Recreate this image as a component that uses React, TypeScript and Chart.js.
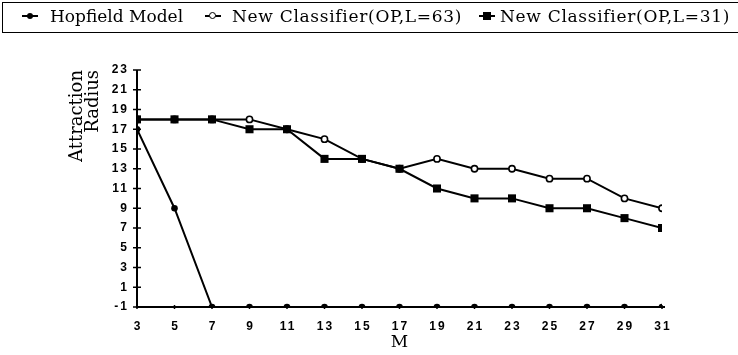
import React, { useEffect, useRef } from "react";
import { Chart, registerables } from "chart.js";

Chart.register(...registerables);

const mValues = [3, 5, 7, 9, 11, 13, 15, 17, 19, 21, 23, 25, 27, 29, 31];
const hopfield = [17, 9, -1, -1, -1, -1, -1, -1, -1, -1, -1, -1, -1, -1, -1];
const classifier63 = [18, 18, 18, 18, 17, 16, 14, 13, 14, 13, 13, 12, 12, 10, 9];
const classifier31 = [18, 18, 18, 17, 17, 14, 14, 13, 11, 10, 10, 9, 9, 8, 7];
const seriesNames = ["Hopfield Model", "New Classifier(OP,L=63)", "New Classifier(OP,L=31)"];
const yAxisTitle = ["Attraction", "Radius"];
const xAxisTitle = "M";

const toPoints = (vals: number[]) => vals.map((v, i) => ({ x: mValues[i], y: v }));

const crossTicks = {
  id: "crossTicks",
  afterDatasetsDraw(chart: any) {
    (chart.ctx as any).letterSpacing = "2px";
  },
  afterDraw(chart: any) {
    const ctx = chart.ctx;
    (ctx as any).letterSpacing = "0px";
    const xs = chart.scales.x;
    const ys = chart.scales.y;
    ctx.save();
    ctx.strokeStyle = "#000";
    ctx.lineWidth = 1.5;
    ctx.beginPath();
    ys.ticks.forEach((t: any) => {
      const y = ys.getPixelForValue(t.value);
      ctx.moveTo(xs.left - 4, y);
      ctx.lineTo(xs.left + 4, y);
    });
    xs.ticks.forEach((t: any) => {
      const x = xs.getPixelForValue(t.value);
      ctx.moveTo(x, ys.bottom - 2);
      ctx.lineTo(x, ys.bottom + 2);
    });
    ctx.stroke();
    ctx.lineWidth = 2;
    ctx.beginPath();
    ctx.moveTo(xs.left, ys.top);
    ctx.lineTo(xs.left, ys.bottom);
    ctx.lineTo(xs.right + 3, ys.bottom);
    ctx.stroke();
    ctx.restore();
  },
};

function Marker({ kind, left }: { kind: string; left: number }) {
  let inner: React.ReactNode;
  if (kind === "dot") {
    inner = <span style={{ position: "absolute", left: 5, top: -3, width: 6, height: 6, borderRadius: 3, background: "#000" }} />;
  } else if (kind === "circle") {
    inner = <span style={{ position: "absolute", left: 4, top: -4, width: 5, height: 5, borderRadius: 4, border: "1.6px solid #000", background: "#fff" }} />;
  } else {
    inner = <span style={{ position: "absolute", left: 4, top: -4, width: 8, height: 8, background: "#000" }} />;
  }
  return (
    <span style={{ position: "absolute", left, top: 16, width: 16, height: 0 }}>
      <span style={{ position: "absolute", left: 0, width: 16, top: -1, height: 2, background: "#000" }} />
      {inner}
    </span>
  );
}

export default function App() {
  const ref = useRef<HTMLCanvasElement>(null);
  useEffect(() => {
    document.body.style.margin = "0";
    const font = { family: "'Liberation Sans', Arial, sans-serif", size: 12, weight: "bold" as const };
    const chart = new Chart(ref.current!, {
      type: "line",
      data: {
        datasets: [
          {
            label: seriesNames[0],
            data: toPoints(hopfield),
            borderColor: "#000",
            backgroundColor: "#000",
            borderWidth: 2,
            pointStyle: "circle",
            pointRadius: 3.3,
            pointBorderWidth: 0,
            order: 2,
          },
          {
            label: seriesNames[1],
            data: toPoints(classifier63),
            borderColor: "#000",
            backgroundColor: "#fff",
            borderWidth: 2,
            pointStyle: "circle",
            pointRadius: 3.1,
            pointBorderWidth: 1.6,
            order: 1,
          },
          {
            label: seriesNames[2],
            data: toPoints(classifier31),
            borderColor: "#000",
            backgroundColor: "#000",
            borderWidth: 2,
            pointStyle: "rect",
            pointRadius: 5.7,
            pointBorderWidth: 0,
            order: 0,
          },
        ],
      },
      options: {
        animation: false,
        responsive: false,
        maintainAspectRatio: false,
        layout: { padding: { top: 70, right: 76, left: 70, bottom: 0 } },
        plugins: { legend: { display: false }, tooltip: { enabled: false } },
        scales: {
          x: {
            type: "linear",
            min: 3,
            max: 31,
            border: { display: false },
            grid: { display: false },
            ticks: { stepSize: 2, color: "#000", font, padding: 4, z: 1, labelOffset: 1 },
            title: {
              display: true,
              text: xAxisTitle,
              color: "#000",
              font: { family: "'DejaVu Serif', serif", size: 17, lineHeight: 1.0 },
              padding: { top: 0, bottom: 4 },
            },
            afterFit: (s: any) => { s.height = 48; },
          },
          y: {
            type: "linear",
            min: -1,
            max: 23,
            border: { display: false },
            grid: { display: false },
            ticks: { stepSize: 2, color: "#000", font, padding: 0, z: 1 },
            title: {
              display: true,
              text: yAxisTitle,
              align: "end",
              color: "#000",
              font: { family: "'DejaVu Serif', serif", size: 18, lineHeight: 0.85 },
              padding: { top: 0, bottom: 0 },
            },
            afterFit: (s: any) => { s.width = 67; },
          },
        },
      },
      plugins: [crossTicks],
    });
    return () => chart.destroy();
  }, []);
  const textStyle: React.CSSProperties = { position: "absolute", top: 4, lineHeight: "24px", whiteSpace: "nowrap" };
  return (
    <div style={{ position: "relative", width: 738, height: 355, overflow: "hidden", background: "#fff" }}>
      <canvas ref={ref} width={738} height={355} style={{ position: "absolute", left: 0, top: 0 }} />
      <div
        style={{
          position: "absolute",
          left: 2,
          top: 2,
          height: 31,
          width: 780,
          border: "1.5px solid #000",
          boxSizing: "border-box",
        }}
      />
      <div style={{ position: "absolute", left: 0, top: 0, width: 738, height: 36, fontFamily: "'DejaVu Serif', serif", fontSize: 17 }}>
        <Marker kind="dot" left={22} />
        <span style={{ ...textStyle, left: 50 }}>{seriesNames[0]}</span>
        <Marker kind="circle" left={205} />
        <span style={{ ...textStyle, left: 232, letterSpacing: "0.7px" }}>{seriesNames[1]}</span>
        <Marker kind="square" left={479} />
        <span style={{ ...textStyle, left: 500, letterSpacing: "0.7px" }}>{seriesNames[2]}</span>
      </div>
    </div>
  );
}
